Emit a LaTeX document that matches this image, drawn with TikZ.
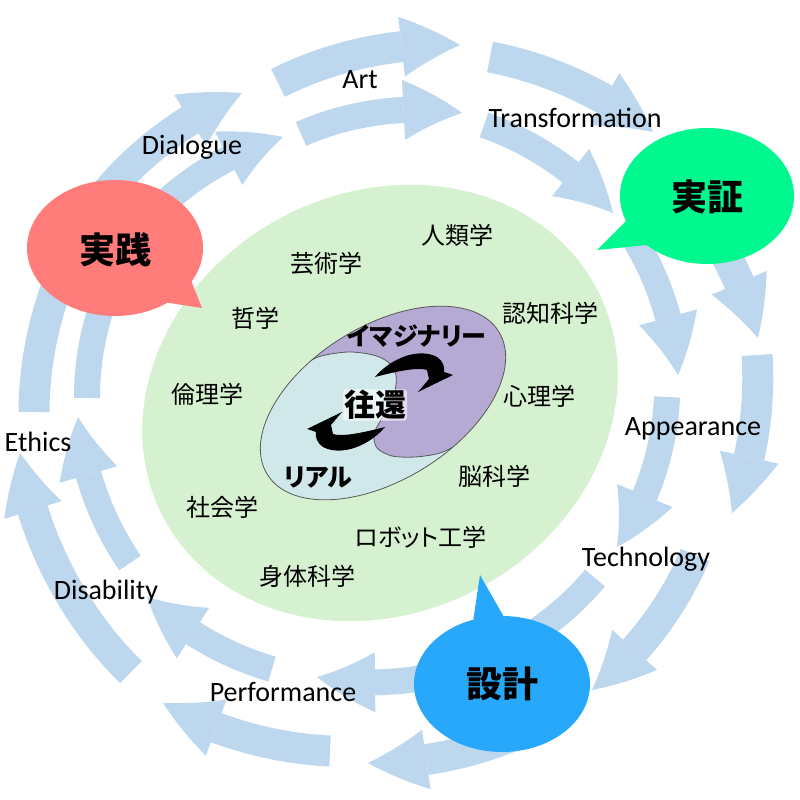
\documentclass[tikz,border=0pt]{standalone}
\usepackage{fontspec}
\setmainfont{Carlito}
\newfontfamily\jp{Noto Sans CJK JP}
\newfontfamily\jpp[RawFeature=+palt]{Noto Sans CJK JP}
\usetikzlibrary{arrows.meta,bending}

\definecolor{ringblue}{RGB}{189,215,238}
\definecolor{fieldgreen}{RGB}{214,241,207}
\definecolor{imagpurple}{RGB}{180,170,212}
\definecolor{realcyan}{RGB}{208,232,234}
\definecolor{practred}{RGB}{255,124,122}
\definecolor{proofgreen}{RGB}{0,248,142}
\definecolor{designblue}{RGB}{40,168,250}

\tikzset{
  ringarrow/.style={draw=ringblue, looseness=0.85, -{Triangle[bend,length=58pt,width=60pt,line width=0pt]}},
  outerarrow/.style={ringarrow, line width=31pt},
  innerarrow/.style={ringarrow, line width=26pt},
  keyword/.style={font=\fontsize{28}{30}\selectfont, anchor=base},
  field/.style={font=\jp\fontsize{24}{26}\selectfont},
  bubble/.style={font=\jp\bfseries\fontsize{36}{40}\selectfont},
  pole/.style={font=\jpp\bfseries\fontsize{25}{27}\selectfont},
}

\begin{document}
\begin{tikzpicture}[x=1pt,y=1pt]
\useasboundingbox (0,0) rectangle (800,800);

\fill[fieldgreen, rotate around={28:(380,397)}] (380,397) ellipse [x radius=245, y radius=210];

\draw[outerarrow] (34,388) to[bend left=16] (90,582);
\draw[outerarrow] (107,608) to[bend left=13.5] (242,707);
\draw[outerarrow] (278,717) to[bend left=15] (460,755);
\draw[outerarrow] (490,743) to[bend left=14] (653,668);
\draw[outerarrow] (671,622) to[bend left=14.5] (758,462);
\draw[outerarrow] (757,445) to[bend left=12.8] (732,287);
\draw[outerarrow] (695,245) to[bend left=14.5] (592,110);
\draw[outerarrow] (530,72) to[bend left=13.7] (368,37);
\draw[outerarrow] (330,49) to[bend left=13.5] (163,97);
\draw[outerarrow] (131,128) to[bend left=19] (20,347);

\draw[innerarrow] (87,402) to[bend left=15.5] (128,552);
\draw[innerarrow] (155,588) to[bend left=15] (283,663);
\draw[innerarrow] (301,666) to[bend left=16.5] (462,687);
\draw[innerarrow] (484,675) to[bend left=15.3] (613,587);
\draw[innerarrow] (630,568) to[bend left=14.5] (678,425);
\draw[innerarrow] (667,403) to[bend left=16] (617,253);
\draw[innerarrow] (595,222) to[bend left=16] (464,133);
\draw[innerarrow] (445,127) to[bend left=13] (317,123);
\draw[innerarrow] (272,131) to[bend left=14] (147,203);
\draw[innerarrow] (130,237) to[bend left=15] (78,383);

\fill[realcyan, rotate around={31.6:(383,397)}] (383,397) ellipse [x radius=136, y radius=77];
\begin{scope}
\clip[rotate around={31.6:(383,397)}] (383,397) ellipse [x radius=136, y radius=77];
\fill[imagpurple] plot[smooth] coordinates {(288,424) (297,430) (318,443) (348,448) (373,445) (388,438) (396,425) (394,405) (382,382) (374,366) (377,352) (392,344) (415,343) (440,347) (462,358) (482,374) (495,390) (503,398)} -- (600,398) -- (600,600) -- (200,600) -- (200,424) -- cycle;
\draw[black!65, line width=0.8pt] plot[smooth] coordinates {(288,424) (297,430) (318,443) (348,448) (373,445) (388,438) (396,425) (394,405) (382,382) (374,366) (377,352) (392,344) (415,343) (440,347) (462,358) (482,374) (495,390) (503,398)};
\end{scope}
\draw[black!65, line width=0.8pt, rotate around={31.6:(383,397)}] (383,397) ellipse [x radius=136, y radius=77];

\fill (375,423) .. controls (390,441) and (418,453) .. (437,443) .. controls (443,439) and (445,433) .. (444,428) -- (453,425) -- (418,408) -- (429,421) -- (427,430) .. controls (418,433) and (398,429) .. (375,423) -- cycle;
\begin{scope}[rotate around={180:(380,398)}]
\fill (375,423) .. controls (390,441) and (418,453) .. (437,443) .. controls (443,439) and (445,433) .. (444,428) -- (453,425) -- (418,408) -- (429,421) -- (427,430) .. controls (418,433) and (398,429) .. (375,423) -- cycle;
\end{scope}

\fill[practred] (202,492) -- (186,532) -- (150,500) -- cycle;
\fill[practred] (115,552) ellipse [x radius=88, y radius=68];
\fill[proofgreen] (597,550) -- (640,593) -- (667,557) -- cycle;
\fill[proofgreen] (707,604) ellipse [x radius=87, y radius=68];
\fill[designblue] (480,225) -- (470,158) -- (520,155) -- cycle;
\fill[designblue] (502,116) ellipse [x radius=88, y radius=68];

\draw (115,550) node[bubble] (jissen) {実践};
\draw (707,603) node[bubble] (jissho) {実証};
\draw (502,116) node[bubble] (sekkei) {設計};

\draw (360,711) node[keyword] (art) {Art};
\draw (192,645) node[keyword] (dialogue) {Dialogue};
\draw (575,672) node[keyword] (transformation) {Transformation};
\draw (693,364) node[keyword] (appearance) {Appearance};
\draw (646,233) node[keyword] (technology) {Technology};
\draw (283,98) node[keyword] (performance) {Performance};
\draw (106,200) node[keyword] (disability) {Disability};
\draw (38,348) node[keyword] (ethics) {Ethics};

\draw (457,565) node[field] (jinrui) {人類学};
\draw (326,537) node[field] (geijutsu) {芸術学};
\draw (255,482) node[field] (tetsu) {哲学};
\draw (550,487) node[field] (ninchi) {認知科学};
\draw (207,406) node[field] (rinri) {倫理学};
\draw (539,404) node[field] (shinri) {心理学};
\draw (494,324) node[field] (nou) {脳科学};
\draw (421,263) node[field, font=\jpp\fontsize{24}{26}\selectfont] (robot) {ロボット工学};
\draw (222,293) node[field] (shakai) {社会学};
\draw (307,224) node[field] (shintai) {身体科学};

\draw (417,464) node[pole] (imaginary) {イマジナリー};
\draw (318,322) node[pole] (real) {リアル};
\draw (375,395) node[font=\jp\bfseries\fontsize{31}{33}\selectfont, fill=white, fill opacity=0.6, text opacity=1, rounded corners=3pt, inner sep=1pt] (oukan) {往還};
\end{tikzpicture}
\end{document}
